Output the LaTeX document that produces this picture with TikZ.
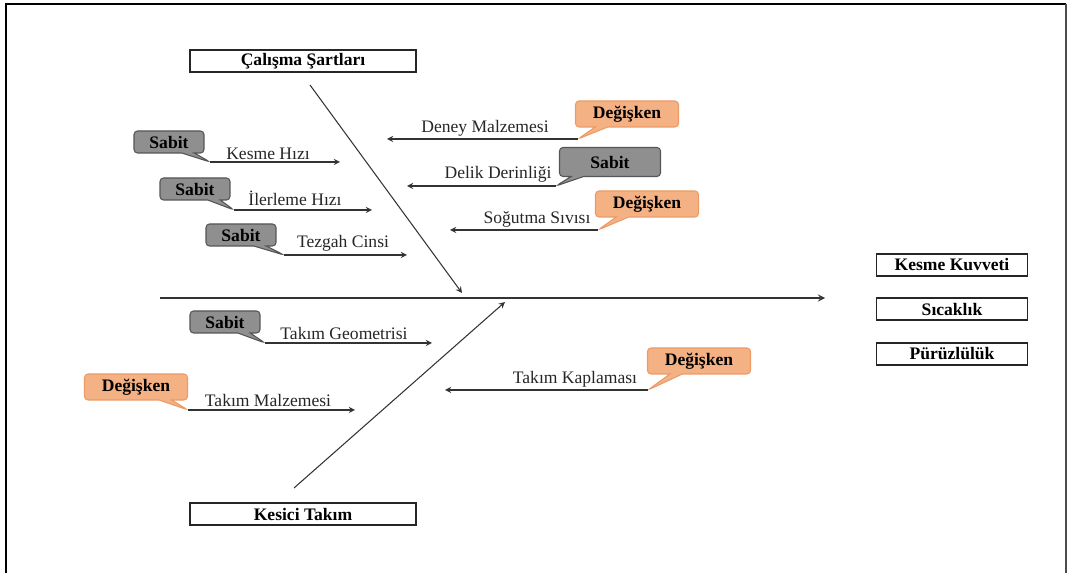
\documentclass[tikz,border=0pt]{standalone}
\usepackage{fontspec}
\setmainfont{Liberation Serif}
\usetikzlibrary{positioning,calc,shapes.callouts}

\definecolor{degfill}{HTML}{F4B183}
\definecolor{degdraw}{HTML}{EC9A66}
\definecolor{sabfill}{HTML}{8F8F8F}
\definecolor{sabdraw}{HTML}{555555}

\tikzset{
	bigbox/.style={draw=black!85,line width=0.9pt,minimum width=4.52cm,minimum height=0.44cm,inner sep=0pt,font=\bfseries\fontsize{10}{11}\selectfont},
	resbox/.style={draw=black!85,line width=0.9pt,minimum width=3.02cm,minimum height=0.44cm,inner sep=0pt,font=\bfseries\fontsize{10}{11}\selectfont},
	lbl/.style={font=\fontsize{10}{11}\selectfont,text=black!85,inner sep=1pt},
	degcall/.style={rectangle callout,rounded corners=2pt,fill=degfill,draw=degdraw,line width=0.6pt,minimum width=2.06cm,minimum height=0.52cm,inner sep=0pt,font=\bfseries\fontsize{10}{11}\selectfont},
	sabcall/.style={rectangle callout,rounded corners=2pt,fill=sabfill,draw=sabdraw,line width=0.6pt,minimum width=1.4cm,minimum height=0.44cm,inner sep=0pt,font=\bfseries\fontsize{10}{11}\selectfont},
	bone/.style={-stealth,line width=0.6pt,black!80},
	spine/.style={-stealth,line width=0.8pt,black!80}
}

\begin{document}
\begin{tikzpicture}[x=0.02cm,y=-0.02cm]
	\useasboundingbox (0,0) rectangle (1068,573);
	% frame
	\draw[line width=1.6pt,black] (6,573)--(6,4)--(1066,4);
	\draw[line width=1pt,black!70] (1066,4)--(1066,573);

	% main spine
	\coordinate (sp1) at (160,298);
	\coordinate (sp2) at (825,298);
	\draw[spine] (sp1)--(sp2);

	% categories
	\node[bigbox] (calisma) at (303,61) {Çalışma Şartları};
	\node[bigbox] (kesici) at (303,514) {Kesici Takım};
	\coordinate (up1) at (310,85);
	\coordinate (up2) at (462,293);
	\coordinate (lo1) at (294,488);
	\coordinate (lo2) at (505,302);
	\draw[bone] (up1)--(up2);
	\draw[bone] (lo1)--(lo2);

	% results
	\node[resbox] (kuvvet) at (952,265) {Kesme Kuvveti};
	\node[resbox] (sicak) at (952,309) {Sıcaklık};
	\node[resbox] (puruz) at (952,354) {Pürüzlülük};

	% upper left bones
	\coordinate (kh1) at (210,162);
	\coordinate (kh2) at (340,162);
	\draw[bone] (kh1)--(kh2);
	\node[lbl,anchor=south] (khlbl) at (268,162) {Kesme Hızı};
	\node[sabcall,callout absolute pointer={(kh1)}] (khsab) at (169,142) {Sabit};

	\coordinate (ih1) at (234,210);
	\coordinate (ih2) at (372,210);
	\draw[bone] (ih1)--(ih2);
	\node[lbl,anchor=south] (ihlbl) at (295,208) {İlerleme Hızı};
	\node[sabcall,callout absolute pointer={(ih1)}] (ihsab) at (195,189) {Sabit};

	\coordinate (tc1) at (284,255);
	\coordinate (tc2) at (407,255);
	\draw[bone] (tc1)--(tc2);
	\node[lbl,anchor=south] (tclbl) at (343,253) {Tezgah Cinsi};
	\node[sabcall,callout absolute pointer={(tc1)}] (tcsab) at (241,235) {Sabit};

	% upper right bones
	\coordinate (dm1) at (578,139);
	\coordinate (dm2) at (387,139);
	\draw[bone] (dm1)--(dm2);
	\node[lbl,anchor=south] (dmlbl) at (485,138) {Deney Malzemesi};
	\node[degcall,callout absolute pointer={(dm1)}] (dmdeg) at (627,114) {Değişken};

	\coordinate (dd1) at (556,186);
	\coordinate (dd2) at (407,186);
	\draw[bone] (dd1)--(dd2);
	\node[lbl,anchor=south] (ddlbl) at (498,184) {Delik Derinliği};
	\node[sabcall,minimum width=2.02cm,minimum height=0.58cm,callout absolute pointer={(dd1)}] (ddsab) at (610,162) {Sabit};

	\coordinate (ss1) at (598,230);
	\coordinate (ss2) at (450,230);
	\draw[bone] (ss1)--(ss2);
	\node[lbl,anchor=south] (sslbl) at (537,229) {Soğutma Sıvısı};
	\node[degcall,callout absolute pointer={(ss1)}] (ssdeg) at (647,204) {Değişken};

	% lower bones
	\coordinate (tg1) at (265,343);
	\coordinate (tg2) at (432,343);
	\draw[bone] (tg1)--(tg2);
	\node[lbl,anchor=south] (tglbl) at (344,342) {Takım Geometrisi};
	\node[sabcall,callout absolute pointer={(tg1)}] (tgsab) at (225,322) {Sabit};

	\coordinate (tm1) at (188,410);
	\coordinate (tm2) at (355,410);
	\draw[bone] (tm1)--(tm2);
	\node[lbl,anchor=south] (tmlbl) at (268,409) {Takım Malzemesi};
	\node[degcall,callout absolute pointer={(tm1)}] (tmdeg) at (136,387) {Değişken};

	\coordinate (tk1) at (648,390);
	\coordinate (tk2) at (445,390);
	\draw[bone] (tk1)--(tk2);
	\node[lbl,anchor=south] (tklbl) at (575,389) {Takım Kaplaması};
	\node[degcall,callout absolute pointer={(tk1)}] (tkdeg) at (699,361) {Değişken};
\end{tikzpicture}
\end{document}
